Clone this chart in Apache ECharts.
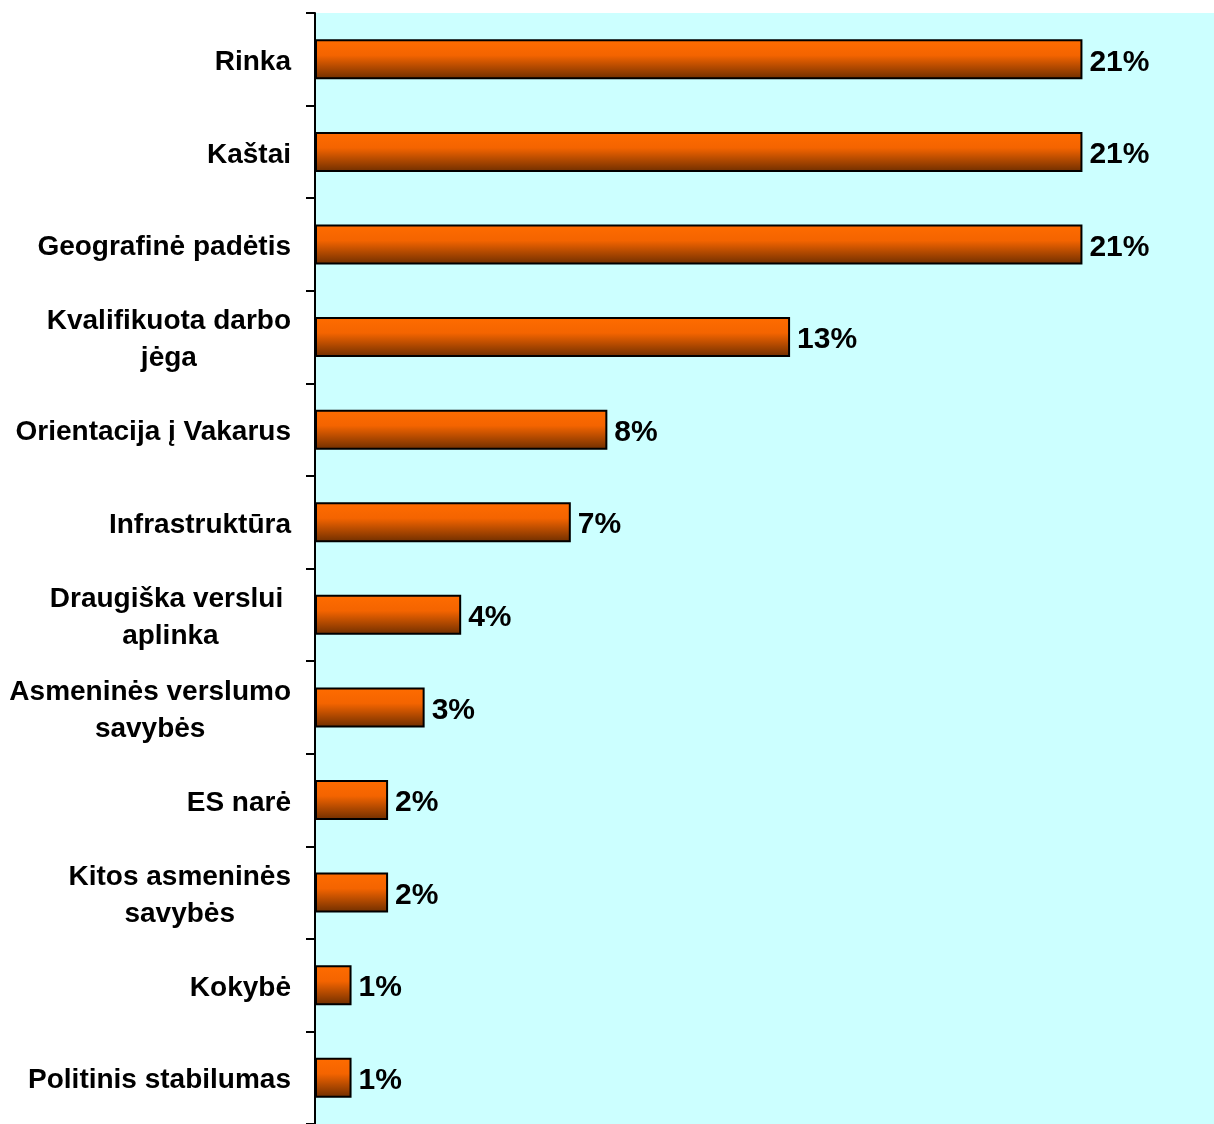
<!DOCTYPE html>
<html>
<head>
<meta charset="utf-8">
<script src="https://cdn.jsdelivr.net/npm/echarts@6/dist/echarts.min.js"></script>
<style>
html,body{margin:0;padding:0;background:#fff;}
#chart{width:1214px;height:1124px;}
</style>
</head>
<body>
<div id="chart"></div>
<script>
var categories = [
  "Rinka",
  "Kaštai",
  "Geografinė padėtis",
  "Kvalifikuota darbo\njėga",
  "Orientacija į Vakarus",
  "Infrastruktūra",
  "Draugiška verslui \naplinka",
  "Asmeninės verslumo\nsavybės",
  "ES narė",
  "Kitos asmeninės\nsavybės",
  "Kokybė",
  "Politinis stabilumas"
];
var values = [21, 21, 21, 13, 8, 7, 4, 3, 2, 2, 1, 1];

var chart = echarts.init(document.getElementById('chart'), null, {renderer: 'canvas'});
var font = 'Liberation Sans, Arial, sans-serif';
chart.setOption({
  animation: false,
  grid: {
    left: 315, right: 0, top: 13, bottom: 0,
    show: true, backgroundColor: '#CCFFFF', borderWidth: 0
  },
  xAxis: {
    type: 'value', min: 0, max: 24.6,
    show: false
  },
  yAxis: {
    type: 'category',
    inverse: true,
    data: categories,
    axisLine: {show: true, lineStyle: {color: '#000', width: 2}},
    axisTick: {show: true, length: 9, lineStyle: {color: '#000', width: 2}},
    axisLabel: {
      margin: 24,
      padding: [6, 0, 0, 0],
      formatter: function (v) {
        return v.split('\n').map(function (s) { return '{c|' + s + '}'; }).join('\n');
      },
      rich: {
        c: {
          align: 'center',
          fontFamily: font, fontWeight: 'bold', fontSize: 28,
          color: '#000', lineHeight: 37
        }
      }
    }
  },
  series: [{
    type: 'bar',
    data: values,
    barWidth: 40,
    itemStyle: {
      borderColor: '#000',
      borderWidth: 2,
      color: new echarts.graphic.LinearGradient(0, 0, 0, 1, [
        {offset: 0, color: '#FF6C00'},
        {offset: 0.4, color: '#F46400'},
        {offset: 1, color: '#6E2E00'}
      ])
    },
    label: {
      show: true,
      position: 'right',
      distance: 7,
      offset: [0, 3],
      formatter: '{c}%',
      fontFamily: font, fontWeight: 'bold', fontSize: 30, color: '#000'
    }
  }]
});
</script>
</body>
</html>
